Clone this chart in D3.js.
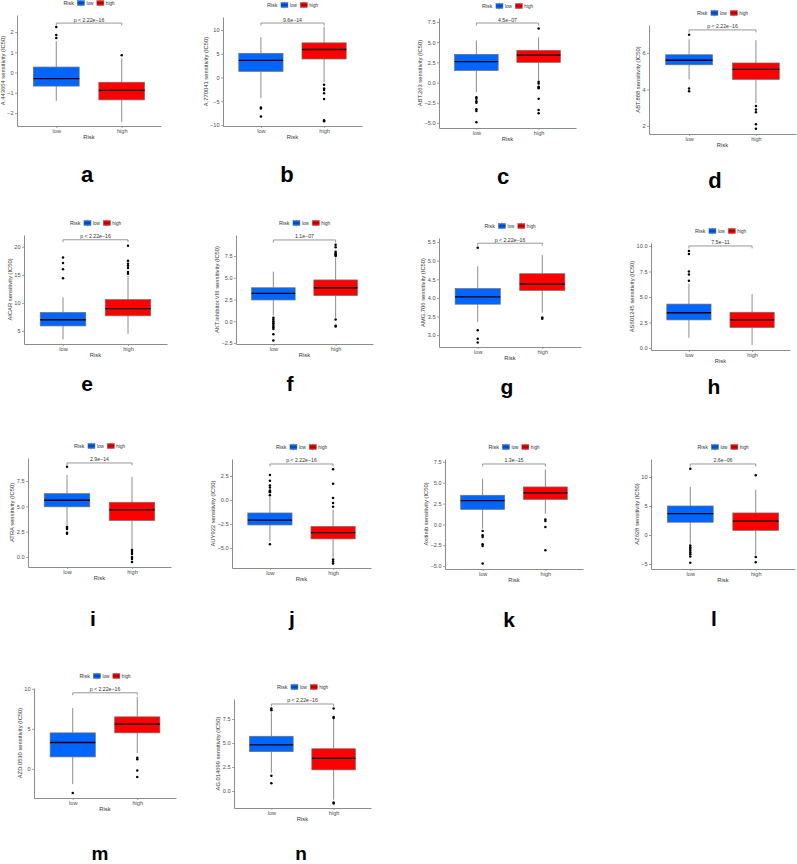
<!DOCTYPE html>
<html><head><meta charset="utf-8">
<script src="https://cdn.jsdelivr.net/npm/d3@7"></script>
<style>
html,body{margin:0;padding:0;background:#fff;}
svg{display:block;font-family:"Liberation Sans",Arial,sans-serif;}
</style></head>
<body><svg id="chart" width="797" height="864"></svg>
<script>
// ---------- DATA ----------
const groups = ["low", "high"];
const panelLetters = ["a","b","c","d","e","f","g","h","i","j","k","l","m","n"];
const drugs = ["A.443654","A.770041","ABT.263","ABT.888","AICAR","AKT.inhibitor.VIII","AMG.706","AS601245","ATRA","AUY922","Axitinib","AZ628","AZD.0530","AG.014699"];
const pLabels = ["p < 2.22e\u221216","9.6e\u221214","4.5e\u221207","p < 2.22e\u221216","p < 2.22e\u221216","1.1e\u221207","p < 2.22e\u221216","7.5e\u221211","2.9e\u221214","p < 2.22e\u221216","1.3e\u221215","2.6e\u221206","p < 2.22e\u221216","p < 2.22e\u221216"];
// [lower whisker, Q1, median, Q3, upper whisker]
const lowStats = [
  [-1.4,-0.67,-0.3,0.27,1.55],
  [-4.3,1.3,3.6,5.1,8.5],
  [-1.2,1.5,2.6,3.5,5.2],
  [4.55,5.35,5.6,5.9,6.75],
  [3.5,5.9,7.0,8.3,11.0],
  [0.7,2.45,3.2,3.85,5.7],
  [3.35,3.83,4.03,4.25,4.85],
  [1.0,2.75,3.45,4.3,6.3],
  [3.1,4.95,5.6,6.25,8.1],
  [-4.3,-2.6,-2.1,-1.35,0.3],
  [-0.5,1.8,2.85,3.5,5.5],
  [-1.5,2.2,3.7,5.0,8.3],
  [-1.9,1.5,3.3,4.5,7.6],
  [1.9,4.1,4.8,5.7,8.2]
];
const highStats = [
  [-2.45,-1.35,-0.88,-0.48,0.7],
  [-1.0,3.9,5.9,7.3,10.7],
  [0.3,2.5,3.4,4.0,5.6],
  [3.25,4.55,5.1,5.45,6.7],
  [4.5,7.7,9.0,10.6,14.8],
  [0.4,2.95,3.85,4.75,7.3],
  [3.6,4.2,4.37,4.65,5.15],
  [0.3,2.0,2.75,3.5,5.3],
  [0.8,3.6,4.65,5.4,7.9],
  [-6.0,-4.05,-3.4,-2.75,-1.0],
  [1.3,3.0,3.8,4.5,6.6],
  [-3.5,0.8,2.4,3.8,7.8],
  [2.0,4.5,5.6,6.5,9.0],
  [-0.9,2.2,3.4,4.4,7.5]
];
const lowOutliers = [
  [2.25,1.85,1.7],
  [-6.3,-6.5,-8.2],
  [-1.8,-2.0,-2.3,-2.5,-3.3,-3.5,-4.9],
  [7.0,4.05,3.9],
  [14.4,16.0,17.1,18.1],
  [0.4,0.2,0.0,-0.2,-0.3,-0.5,-0.7,-0.9,-1.5,-2.2],
  [5.35,3.13,2.9,2.8],
  [6.6,7.2,7.5,9.2,9.5],
  [8.9,2.95,2.85,2.75,2.4,2.3],
  [0.5,0.8,0.9,1.0,1.3,1.5,2.0,2.6,-4.6],
  [-0.8,-1.3,-1.5,-2.4,-2.6,-4.7],
  [11.4,-1.8,-2.1,-2.4,-2.7,-3.0,-3.3,-3.7,-4.8],
  [-3.0],
  [8.4,8.6,1.6,0.8]
];
const highOutliers = [
  [0.85],
  [-1.5,-2.3,-2.6,-3.3,-4.5,-9.0,-9.2],
  [6.7,0.1,-0.1,-0.5,-0.6,-0.7,-2.0,-3.4,-3.8],
  [3.1,2.9,2.75,2.1,1.85],
  [15.2,15.5,16.2,16.6,17.0,17.5,20.2],
  [7.5,7.6,7.7,7.8,8.0,8.5,8.8,0.2,-0.5,-0.6],
  [3.47,3.44],
  [],
  [0.7,0.5,0.3,0.0,-0.2,-0.5],
  [-0.7,-0.3,0.2,1.7,3.2,-6.2,-6.4,-6.6],
  [0.6,0.4,-0.3,-3.1],
  [10.3,-3.8,-4.7],
  [1.4,1.2,-0.2,-1.0],
  [7.6,7.7,8.6,-1.2,-1.3]
];
const bracketValues = [2.44,11.47,7.38,7.26,21.25,9.34,5.47,10.0,9.28,3.75,7.26,12.24,9.5,9.06];
const yTickLabels = [
  ["\u22122","\u22121","0","1","2"],
  ["\u221210","\u22125","0","5","10"],
  ["\u22125.0","\u22122.5","0.0","2.5","5.0","7.5"],
  ["2","4","6"],
  ["5","10","15","20"],
  ["\u22122.5","0.0","2.5","5.0","7.5"],
  ["3.0","3.5","4.0","4.5","5.0","5.5"],
  ["0.0","2.5","5.0","7.5","10.0"],
  ["0.0","2.5","5.0","7.5"],
  ["\u22125.0","\u22122.5","0.0","2.5"],
  ["\u22125.0","\u22122.5","0.0","2.5","5.0","7.5"],
  ["\u22125","0","5","10"],
  ["0","5","10"],
  ["0.0","2.5","5.0","7.5"]
];
const yDomains = [
  [-2.64,2.84],[-10.2,12.74],[-5.62,8.0],[1.56,7.53],[2.68,22.1],[-2.61,9.91],[2.68,5.61],
  [-0.2,10.29],[-0.99,9.77],[-7.08,4.27],[-5.36,7.86],[-5.86,13.1],[-3.63,10.1],[-1.77,9.58]
];

// ---------- LAYOUT (pixels) ----------
// [yAxisX, xAxisRight, top, bottom]
const panelRects = [
  [17,161,15,126],[223,362,17,126],[439,576,18,128],[649,796,25,134],
  [24,167,235,344],[236,373,235,344],[439,581,238,347],[651,790,243,350],
  [28,171,458,567],[232,371,459,568],[445,583,459,569],[651,795,459,569],
  [34,176,688,798],[234,371,699,808]
];
// [x, baseline y, font size]
const letterPos = [
  [87,182,22],[287,182,22],[503,184,22],[715,188,22],
  [87,391,21],[290,391,21],[507,394,21],[714,394,21],
  [93,626,21],[292,626,21],[509,627,21],[714,626,21],
  [100,860,19],[301,860,19]
];
const colors = {low:"#0066FF", high:"#FF0000"};
const axisCol = "#8c8c8c", boxStroke = "#707070", whiskCol = "#8c8c8c";

const svg = d3.select("#chart");
const parseLab = s => +s.replace("\u2212","-");

drugs.forEach((drug, i) => {
  const [ax, ar, top, bot] = panelRects[i];
  const g = svg.append("g");
  const y = d3.scaleLinear().domain(yDomains[i]).range([bot, top]);
  const x = d3.scalePoint().domain(groups).range([ax, ar]).padding(0.6);
  const bw = x.step() * 0.7;

  // y axis
  const labs = yTickLabels[i];
  const yAx = g.append("g").attr("transform", `translate(${ax},0)`)
    .call(d3.axisLeft(y).tickValues(labs.map(parseLab)).tickSize(2).tickSizeOuter(0).tickPadding(1.5)
      .tickFormat((d, k) => labs[k]));
  const xAx = g.append("g").attr("transform", `translate(0,${bot})`)
    .call(d3.axisBottom(x).tickSize(2).tickSizeOuter(0).tickPadding(1.5));
  [yAx, xAx].forEach(a => {
    a.select(".domain").attr("stroke", axisCol).attr("stroke-width", 1);
    a.selectAll(".tick line").attr("stroke", axisCol).attr("stroke-width", 0.8);
    a.selectAll(".tick text").attr("fill", "#4d4d4d").style("font-size", "5.6px").style("font-family", "Liberation Sans, Arial, sans-serif");
  });
  let maxW = 0;
  yAx.selectAll(".tick text").each(function(){ maxW = Math.max(maxW, this.getComputedTextLength()); });

  // axis titles
  g.append("text").attr("transform", `translate(${ax - 2 - 1.5 - maxW - 4.5},${(top+bot)/2}) rotate(-90)`)
    .attr("text-anchor", "middle").attr("dominant-baseline", "central")
    .attr("fill", "#333").style("font-size", "5.8px").text(drug + " sensitivity (IC50)");
  g.append("text").attr("x", (ax+ar)/2).attr("y", bot + 13)
    .attr("text-anchor", "middle").attr("fill", "#333").style("font-size", "5.8px").text("Risk");

  // boxes
  groups.forEach(grp => {
    const st = grp === "low" ? lowStats[i] : highStats[i];
    const outs = grp === "low" ? lowOutliers[i] : highOutliers[i];
    const cx = x(grp);
    g.append("line").attr("x1", cx).attr("x2", cx).attr("y1", y(st[0])).attr("y2", y(st[1]))
      .attr("stroke", whiskCol).attr("stroke-width", 1);
    g.append("line").attr("x1", cx).attr("x2", cx).attr("y1", y(st[3])).attr("y2", y(st[4]))
      .attr("stroke", whiskCol).attr("stroke-width", 1);
    g.append("rect").attr("x", cx - bw/2).attr("width", bw)
      .attr("y", y(st[3])).attr("height", y(st[1]) - y(st[3]))
      .attr("fill", colors[grp]).attr("stroke", boxStroke).attr("stroke-width", 0.7);
    g.append("line").attr("x1", cx - bw/2).attr("x2", cx + bw/2).attr("y1", y(st[2])).attr("y2", y(st[2]))
      .attr("stroke", "#000").attr("stroke-width", 1.3);
    g.selectAll(null).data(outs).enter().append("circle")
      .attr("cx", cx).attr("cy", d => y(d)).attr("r", 1.25).attr("fill", "#000");
  });

  // comparison bracket
  const by = y(bracketValues[i]);
  g.append("path").attr("d", `M${x("low")},${by+2.5}V${by}H${x("high")}V${by+2.5}`)
    .attr("fill", "none").attr("stroke", whiskCol).attr("stroke-width", 0.9);
  g.append("text").attr("x", (x("low")+x("high"))/2).attr("y", by - 1.5)
    .attr("text-anchor", "middle").attr("fill", "#333").style("font-size", "5.2px").text(pLabels[i]);

  // legend
  const lg = g.append("g");
  let cur = 0;
  const ly = top - 12;
  const t0 = lg.append("text").attr("x", cur).attr("y", ly).attr("dominant-baseline", "central")
    .attr("fill", "#333").style("font-size", "5.4px").text("Risk");
  cur += t0.node().getComputedTextLength() + 3.5;
  groups.forEach(grp => {
    const kw = 7, kh = 5;
    lg.append("line").attr("x1", cur + kw/2).attr("x2", cur + kw/2).attr("y1", ly - kh/2 - 1).attr("y2", ly + kh/2 + 1)
      .attr("stroke", whiskCol).attr("stroke-width", 0.6);
    lg.append("rect").attr("x", cur).attr("y", ly - kh/2).attr("width", kw).attr("height", kh)
      .attr("fill", colors[grp]).attr("stroke", boxStroke).attr("stroke-width", 0.5);
    lg.append("line").attr("x1", cur).attr("x2", cur + kw).attr("y1", ly).attr("y2", ly)
      .attr("stroke", "#000").attr("stroke-width", 0.5);
    cur += kw + 2;
    const t = lg.append("text").attr("x", cur).attr("y", ly).attr("dominant-baseline", "central")
      .attr("fill", "#333").style("font-size", "4.6px").text(grp);
    cur += t.node().getComputedTextLength() + 3.5;
  });
  cur -= 3.5;
  lg.attr("transform", `translate(${(ax+ar)/2 - cur/2},0)`);

  // panel letter
  svg.append("text").attr("x", letterPos[i][0]).attr("y", letterPos[i][1])
    .attr("text-anchor", "middle")
    .style("font-size", letterPos[i][2] + "px").style("font-weight", "bold").attr("fill", "#000")
    .text(panelLetters[i]);
});
</script></body></html>
